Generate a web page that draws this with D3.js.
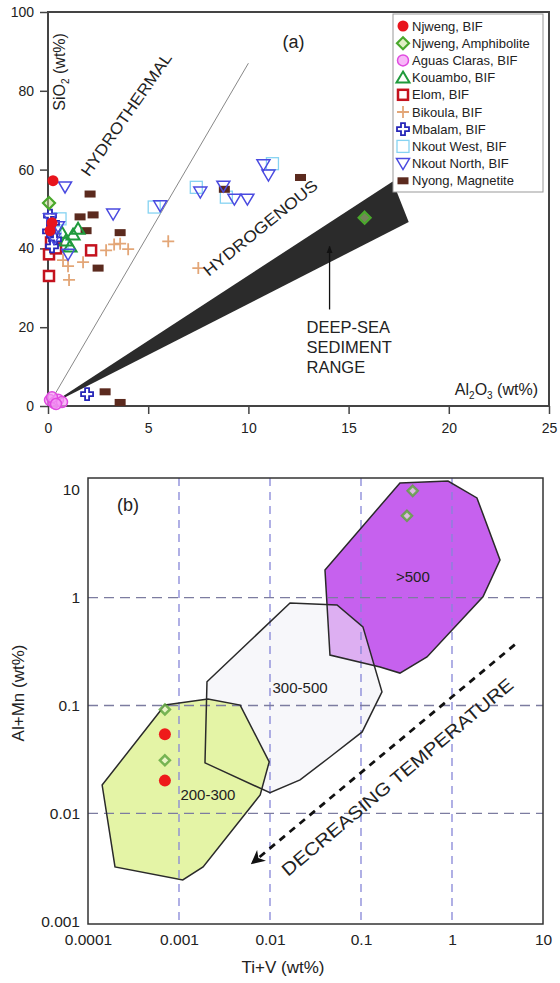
<!DOCTYPE html>
<head>
<meta charset="utf-8">
<style>
  body { margin: 0; background: white; }
  svg { background-color: white; }
  text { font-family: "Liberation Sans", Arial, sans-serif; fill: #222; }
</style>
</head>
<body>
<script src="https://d3js.org/d3.v7.min.js"></script>
<script>

const width = 560;
const height = 983;

// ---------- panel (a): Al2O3 vs SiO2 (wt%) ----------
const aNjwengBIF   = [[0.25, 57.2], [0.2, 46.5], [0.1, 44.5]];
const aNjwengAmph  = [[0.05, 51.5], [15.8, 47.8]];
const aAguasClaras = [[0.1, 1.5], [0.3, 0.8], [0.5, 1.6], [0.7, 1.0], [0.2, 2.2], [0.4, 0.5]];
const aKouambo     = [[1.25, 43.5], [0.9, 42], [1.5, 45], [0.7, 44], [1.1, 40.5]];
const aElom        = [[2.15, 39.5], [0.05, 33], [0.05, 38.5], [0.15, 41.5], [0.4, 40]];
const aBikoula     = [[2.9, 39.5], [3.6, 41.2], [4.0, 39.8], [3.3, 41], [1.75, 36.5], [1.0, 35.5],
                      [1.05, 32], [0.75, 37], [6.0, 41.8], [7.5, 35]];
const aMbalam      = [[0.1, 48.3], [0.25, 46.5], [0.05, 44.3], [0.35, 42.3], [0.2, 40.5], [1.95, 3]];
const aNkoutWest   = [[5.3, 50.5], [7.4, 55.5], [8.9, 53], [11.2, 61.5], [0.35, 44], [0.7, 41], [0.6, 47.5]];
const aNkoutNorth  = [[5.6, 50.8], [7.6, 54.3], [8.75, 55.8], [9.3, 52.5], [9.95, 52.5], [10.75, 61.2],
                      [11, 58.6], [0.85, 55.6], [3.25, 48.7], [0.1, 47.5], [0.5, 45.5], [1.0, 38.5], [0.3, 42.5]];
const aNyong       = [[2.1, 53.8], [1.6, 48], [2.25, 48.5], [1.9, 44.5], [3.6, 44], [2.5, 35],
                      [8.8, 55], [12.6, 58], [2.85, 3.6], [3.6, 0.9]];

const legendLabels = ["Njweng, BIF", "Njweng, Amphibolite", "Aguas Claras, BIF", "Kouambo, BIF",
                      "Elom, BIF", "Bikoula, BIF", "Mbalam, BIF", "Nkout West, BIF",
                      "Nkout North, BIF", "Nyong, Magnetite"];
const legendTypes = ["njBIF", "njAmph", "aguas", "kouambo", "elom", "bikoula", "mbalam", "nkW", "nkN", "nyong"];
const seriesA = [aNjwengBIF, aNjwengAmph, aAguasClaras, aKouambo, aElom, aBikoula, aMbalam, aNkoutWest, aNkoutNorth, aNyong];

const aXTicks = [0, 5, 10, 15, 20, 25];
const aYTicks = [0, 20, 40, 60, 80, 100];

const hydrothermalLine = [[0, 0], [10, 87]];
const deepSeaWedge = [[0, 0], [17.2, 57], [18, 46.7]];
const deepSeaArrow = [[14.05, 24.5], [14.05, 40.5]];

// ---------- panel (b): Ti+V vs Al+Mn (wt%), log-log ----------
const zone200 = [[0.0007, 0.101], [0.00208, 0.115], [0.0047, 0.101], [0.0098, 0.030], [0.0078, 0.0148],
                 [0.00184, 0.00318], [0.0011, 0.00241], [0.000198, 0.00318], [0.000143, 0.0183]];
const zone300 = [[0.00203, 0.166], [0.0166, 0.895], [0.0545, 0.857], [0.105, 0.536], [0.170, 0.134],
                 [0.103, 0.0569], [0.0456, 0.0333], [0.0214, 0.0204], [0.01, 0.0155], [0.00193, 0.0294]];
const zone500 = [[0.268, 11.6], [0.904, 12.1], [1.88, 8.43], [3.37, 2.24], [2.19, 1.02], [0.531, 0.282],
                 [0.268, 0.2], [0.162, 0.228], [0.0456, 0.294], [0.0402, 1.81]];

const bNjwengBIF  = [[0.0007, 0.054], [0.0007, 0.0201]];
const bNjwengAmph = [[0.0007, 0.092], [0.0007, 0.031], [0.37, 9.8], [0.32, 5.75]];

const bXTicks = [1e-4, 1e-3, 1e-2, 1e-1, 1, 10];
const bXLabels = ["0.0001", "0.001", "0.01", "0.1", "1", "10"];
const bYTicks = [1e-3, 1e-2, 1e-1, 1, 10];
const bYLabels = ["0.001", "0.01", "0.1", "1", "10"];
const bGrid = [1e-3, 1e-2, 1e-1, 1];
const tempArrow = [[4.9, 0.367], [0.0065, 0.0035]];

const svg = d3.select('body').append('svg')
    .attr('width', width)
    .attr('height', height);

const defs = svg.append('defs');
defs.append('marker')
    .attr('id', 'headA')
    .attr('viewBox', '0 0 10 10')
    .attr('refX', 9).attr('refY', 5)
    .attr('markerWidth', 6).attr('markerHeight', 6)
    .attr('orient', 'auto')
    .append('path').attr('d', 'M0,1L10,5L0,9Z').attr('fill', '#111');
defs.append('marker')
    .attr('id', 'headB')
    .attr('viewBox', '0 0 10 10')
    .attr('refX', 8).attr('refY', 5)
    .attr('markerWidth', 5).attr('markerHeight', 5)
    .attr('markerUnits', 'strokeWidth')
    .attr('orient', 'auto')
    .append('path').attr('d', 'M0,0L10,5L0,10L3,5Z').attr('fill', '#111');

// marker shapes shared by the plot and the legend
const drawMarker = (g, type) => {
    switch (type) {
        case 'njBIF':
            g.append('circle').attr('r', 5.5).attr('fill', '#e8141c');
            break;
        case 'njAmph':
            g.append('path').attr('d', 'M0,-6L6,0L0,6L-6,0Z')
                .attr('fill', '#bfe08a').attr('fill-opacity', 0.5)
                .attr('stroke', '#4aa82c').attr('stroke-width', 2.2);
            break;
        case 'aguas':
            g.append('circle').attr('r', 5.5)
                .attr('fill', '#f59af5').attr('fill-opacity', 0.7)
                .attr('stroke', '#e04ae0').attr('stroke-width', 1.5);
            break;
        case 'kouambo':
            g.append('path').attr('d', 'M0,-6L6.5,5L-6.5,5Z')
                .attr('fill', 'none').attr('stroke', '#1f9a3c').attr('stroke-width', 2);
            break;
        case 'elom':
            g.append('rect').attr('x', -5).attr('y', -5).attr('width', 10).attr('height', 10)
                .attr('fill', 'white').attr('stroke', '#c4121e').attr('stroke-width', 2.5);
            break;
        case 'bikoula':
            g.append('path').attr('d', 'M-6,0H6M0,-6V6')
                .attr('stroke', '#e3a677').attr('stroke-width', 1.8);
            break;
        case 'mbalam':
            g.append('path').attr('d', 'M-2,-6H2V-2H6V2H2V6H-2V2H-6V-2H-2Z')
                .attr('fill', 'white').attr('stroke', '#2626b8').attr('stroke-width', 1.8);
            break;
        case 'nkW':
            g.append('rect').attr('x', -6).attr('y', -6).attr('width', 12).attr('height', 12)
                .attr('fill', 'none').attr('stroke', '#86d3f2').attr('stroke-width', 1.3);
            break;
        case 'nkN':
            g.append('path').attr('d', 'M-6.5,-5L6.5,-5L0,6Z')
                .attr('fill', 'none').attr('stroke', '#4a4ae0').attr('stroke-width', 1.5);
            break;
        case 'nyong':
            g.append('rect').attr('x', -5.5).attr('y', -3.5).attr('width', 11).attr('height', 7)
                .attr('fill', '#5b2a1e');
            break;
    }
};

// ================= panel (a) =================
const xA = d3.scaleLinear().domain([0, 25]).range([48, 549]);
const yA = d3.scaleLinear().domain([0, 100]).range([406, 12]);
const pa = svg.append('g');

pa.append('g')
    .attr('transform', 'translate(0,406)')
    .call(d3.axisBottom(xA).tickValues(aXTicks).tickSize(8).tickSizeOuter(0).tickPadding(9))
    .call(g => g.select('.domain').remove())
    .call(g => g.selectAll('line').attr('stroke', '#444').attr('stroke-width', 1.5))
    .call(g => g.selectAll('text').style('font-size', '14px').attr('fill', '#333'));

pa.append('g')
    .attr('transform', 'translate(48,0)')
    .call(d3.axisLeft(yA).tickValues(aYTicks).tickSize(8).tickSizeOuter(0).tickPadding(6))
    .call(g => g.select('.domain').remove())
    .call(g => g.selectAll('line').attr('stroke', '#444').attr('stroke-width', 1.5))
    .call(g => g.selectAll('text').style('font-size', '14px').attr('fill', '#333'));

pa.append('rect')
    .attr('x', xA(0)).attr('y', yA(100))
    .attr('width', xA(25) - xA(0)).attr('height', yA(0) - yA(100))
    .attr('fill', 'none').attr('stroke', '#444').attr('stroke-width', 2);

const lineA = d3.line().x(d => xA(d[0])).y(d => yA(d[1]));

pa.append('path').attr('d', lineA(hydrothermalLine))
    .attr('stroke', '#888').attr('stroke-width', 1).attr('fill', 'none');
pa.append('path').attr('d', lineA(deepSeaWedge) + 'Z')
    .attr('fill', '#2b2b2b');
pa.append('path').attr('d', lineA(deepSeaArrow))
    .attr('stroke', '#111').attr('stroke-width', 1.3)
    .attr('marker-end', 'url(#headA)');

// points, drawn back to front
const drawOrder = [7, 5, 4, 9, 3, 6, 8, 0, 1, 2];
drawOrder.forEach(i => {
    pa.append('g').selectAll('g')
        .data(seriesA[i])
        .join('g')
        .attr('transform', d => `translate(${xA(d[0])},${yA(d[1])})`)
        .each(function () { drawMarker(d3.select(this), legendTypes[i]); });
});

// annotations
pa.append('text')
    .attr('transform', `translate(${xA(3.9)},${yA(74)}) rotate(-55)`)
    .attr('text-anchor', 'middle').attr('dy', '0.35em')
    .style('font-size', '16px')
    .attr('textLength', 146).attr('lengthAdjust', 'spacingAndGlyphs')
    .text('HYDROTHERMAL');
pa.append('text')
    .attr('transform', `translate(${xA(10.6)},${yA(45.2)}) rotate(-39)`)
    .attr('text-anchor', 'middle').attr('dy', '0.35em')
    .style('font-size', '16px')
    .attr('textLength', 142).attr('lengthAdjust', 'spacingAndGlyphs')
    .text('HYDROGENOUS');
['DEEP-SEA', 'SEDIMENT', 'RANGE'].forEach((t, i) => {
    pa.append('text')
        .attr('x', xA(12.9)).attr('y', yA(18.6) + i * 20)
        .style('font-size', '16.5px')
        .text(t);
});
pa.append('text')
    .attr('x', xA(12.25)).attr('y', yA(92.4)).attr('dy', '0.35em')
    .attr('text-anchor', 'middle')
    .style('font-size', '18px')
    .text('(a)');

// axis titles
const yTitleA = pa.append('text')
    .attr('transform', `translate(${xA(0.85)},${yA(84.8)}) rotate(-90)`)
    .attr('text-anchor', 'middle')
    .style('font-size', '16px');
yTitleA.append('tspan').text('SiO');
yTitleA.append('tspan').text('2').attr('dy', 4).style('font-size', '10px');
yTitleA.append('tspan').text(' (wt%)').attr('dy', -4);

const xTitleA = pa.append('text')
    .attr('x', xA(24.45)).attr('y', yA(2.7))
    .attr('text-anchor', 'end')
    .style('font-size', '16px');
xTitleA.append('tspan').text('Al');
xTitleA.append('tspan').text('2').attr('dy', 4).style('font-size', '10px');
xTitleA.append('tspan').text('O').attr('dy', -4);
xTitleA.append('tspan').text('3').attr('dy', 4).style('font-size', '10px');
xTitleA.append('tspan').text(' (wt%)').attr('dy', -4);

// legend
const legend = pa.append('g').attr('transform', 'translate(393,14)');
legend.append('rect')
    .attr('width', 150).attr('height', 178)
    .attr('fill', 'white').attr('stroke', '#999').attr('stroke-width', 1);
legendLabels.forEach((label, i) => {
    const row = legend.append('g').attr('transform', `translate(0,${12 + i * 17.2})`);
    drawMarker(row.append('g').attr('transform', 'translate(10,0)'), legendTypes[i]);
    row.append('text')
        .attr('x', 19).attr('dy', '0.35em')
        .style('font-size', '13px')
        .attr('fill', '#333')
        .text(label);
});

// ================= panel (b) =================
const xB = d3.scaleLog().domain([1e-4, 10]).range([88, 543]);
const yB = d3.scaleLog().domain([0.00094, 12.9]).range([924, 478]);
const pb = svg.append('g');

const lineB = d3.line().x(d => xB(d[0])).y(d => yB(d[1]));

// zones: >500 under, translucent 300-500 over it, 200-300 on top
pb.append('path').attr('d', lineB(zone500) + 'Z').attr('fill', '#c661ee');
pb.append('path').attr('d', lineB(zone300) + 'Z').attr('fill', '#f0f0f5').attr('fill-opacity', 0.55);
pb.append('path').attr('d', lineB(zone200) + 'Z').attr('fill', '#e4f4a6');

// dashed grid
pb.append('g').selectAll('line')
    .data(bGrid)
    .join('line')
    .attr('x1', d => xB(d)).attr('x2', d => xB(d))
    .attr('y1', yB(12.9)).attr('y2', yB(0.00094))
    .attr('stroke', '#8686d8').attr('stroke-width', 1.3)
    .attr('stroke-dasharray', '8,6');
pb.append('g').selectAll('line')
    .data(bGrid.slice(1))
    .join('line')
    .attr('x1', xB(1e-4)).attr('x2', xB(10))
    .attr('y1', d => yB(d)).attr('y2', d => yB(d))
    .attr('stroke', '#7c7ca0').attr('stroke-width', 1.3)
    .attr('stroke-dasharray', '10,6');

// zone outlines on top
[zone500, zone200, zone300].forEach(z => {
    pb.append('path').attr('d', lineB(z) + 'Z')
        .attr('fill', 'none').attr('stroke', '#2a2a2a').attr('stroke-width', 1.5);
});

pb.append('text')
    .attr('x', xB(0.372)).attr('y', yB(1.56)).attr('dy', '0.35em')
    .attr('text-anchor', 'middle').style('font-size', '15px').attr('fill', '#333')
    .text('>500');
pb.append('text')
    .attr('x', xB(0.0214)).attr('y', yB(0.146)).attr('dy', '0.35em')
    .attr('text-anchor', 'middle').style('font-size', '15px').attr('fill', '#333')
    .text('300-500');
pb.append('text')
    .attr('x', xB(0.00208)).attr('y', yB(0.0148)).attr('dy', '0.35em')
    .attr('text-anchor', 'middle').style('font-size', '15px').attr('fill', '#333')
    .text('200-300');
pb.append('text')
    .attr('x', xB(0.000275)).attr('y', yB(7.26)).attr('dy', '0.35em')
    .attr('text-anchor', 'middle').style('font-size', '18px')
    .text('(b)');

// decreasing temperature arrow
pb.append('path').attr('d', lineB(tempArrow))
    .attr('stroke', '#111').attr('stroke-width', 2.8)
    .attr('stroke-dasharray', '7,6')
    .attr('fill', 'none')
    .attr('marker-end', 'url(#headB)');
pb.append('text')
    .attr('transform', `translate(${xB(0.0158)},${yB(0.00257)}) rotate(-40)`)
    .style('font-size', '18px')
    .attr('textLength', 296).attr('lengthAdjust', 'spacingAndGlyphs')
    .text('DECREASING TEMPERATURE');

// points
pb.append('g').selectAll('g')
    .data(bNjwengAmph)
    .join('g')
    .attr('transform', d => `translate(${xB(d[0])},${yB(d[1])})`)
    .each(function (d) {
        d3.select(this).append('path').attr('d', 'M0,-5L5,0L0,5L-5,0Z')
            .attr('fill', '#eef6dc').attr('fill-opacity', 0.6)
            .attr('stroke', '#5aa43a').attr('stroke-opacity', 0.8).attr('stroke-width', 2.5);
    });
pb.append('g').selectAll('circle')
    .data(bNjwengBIF)
    .join('circle')
    .attr('cx', d => xB(d[0])).attr('cy', d => yB(d[1]))
    .attr('r', 6).attr('fill', '#ee1a1a');

// frame and axes
pb.append('rect')
    .attr('x', xB(1e-4)).attr('y', yB(12.9))
    .attr('width', xB(10) - xB(1e-4)).attr('height', yB(0.00094) - yB(12.9))
    .attr('fill', 'none').attr('stroke', '#333').attr('stroke-width', 1.5);

pb.append('g')
    .attr('transform', `translate(0,${yB(0.00094)})`)
    .call(d3.axisBottom(xB).tickValues(bXTicks).tickFormat((d, i) => bXLabels[i]).tickSize(0).tickPadding(10))
    .call(g => g.select('.domain').remove())
    .call(g => g.selectAll('text').style('font-size', '15.5px').attr('fill', '#333'));

pb.append('g')
    .attr('transform', `translate(${xB(1e-4)},0)`)
    .call(d3.axisLeft(yB).tickValues(bYTicks).tickFormat((d, i) => bYLabels[i]).tickSize(0).tickPadding(8))
    .call(g => g.select('.domain').remove())
    .call(g => g.selectAll('text').style('font-size', '15.5px').attr('fill', '#333'));

pb.append('text')
    .attr('x', 283).attr('y', 973)
    .attr('text-anchor', 'middle')
    .style('font-size', '17px').attr('fill', '#333')
    .text('Ti+V (wt%)');
pb.append('text')
    .attr('transform', 'translate(24,693) rotate(-90)')
    .attr('text-anchor', 'middle')
    .style('font-size', '17px').attr('fill', '#333')
    .text('Al+Mn (wt%)');

</script>
</body>
</html>
